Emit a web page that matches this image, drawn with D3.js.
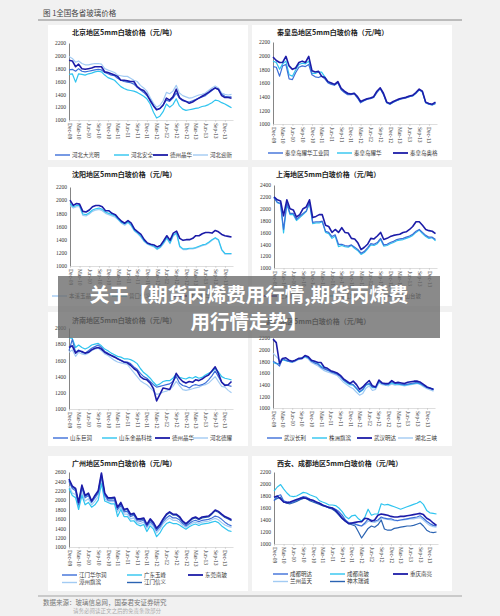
<!DOCTYPE html>
<html>
<head>
<meta charset="utf-8">
<script src="https://cdn.jsdelivr.net/npm/d3@7"></script>
<style>
body { margin: 0; background: #f1f1f1; }
svg { display: block; }
</style>
</head>
<body>
<div id="chartDiv"></div>
<script>
// monthly prices, Dec-09 .. Feb-14 (51 points each)
var bjDaguangming = [1780,1790,1760,1800,1760,1750,1760,1770,1780,1790,1780,1740,
	1720,1700,1690,1650,1620,1600,1590,1580,1560,1510,1470,1430,
	1380,1320,1230,1160,1180,1240,1310,1290,1340,1420,1340,1300,
	1290,1280,1300,1320,1340,1360,1380,1420,1460,1500,1470,1400,
	1370,1360,1360];
var bjAnquan = [1710,1720,1590,1720,1710,1700,1720,1730,1750,1760,1750,1700,
	1660,1640,1620,1570,1520,1490,1470,1460,1450,1430,1400,1370,
	1330,1250,1120,1030,1060,1130,1250,1200,1240,1330,1220,1170,
	1150,1160,1170,1180,1190,1210,1220,1240,1270,1310,1300,1270,
	1250,1220,1190];
var bjJinghua = [1930,1920,1830,1870,1800,1790,1800,1810,1830,1830,1830,1750,
	1740,1720,1700,1680,1620,1620,1610,1600,1600,1520,1480,1460,
	1400,1300,1220,1160,1180,1230,1340,1310,1360,1480,1350,1310,
	1290,1260,1280,1310,1340,1370,1400,1430,1470,1500,1480,1380,
	1350,1350,1340];
var bjYingxin = [1990,1960,1900,1920,1880,1860,1860,1870,1880,1880,1870,1800,
	1780,1760,1740,1700,1690,1680,1680,1650,1620,1600,1540,1500,
	1450,1350,1260,1200,1230,1300,1430,1410,1450,1540,1420,1380,
	1360,1340,1350,1370,1390,1400,1420,1460,1500,1530,1500,1420,
	1400,1390,1400];

var qhdPark = [1840,1830,1700,1850,1870,1660,1650,1750,1830,1850,1840,1870,
	1720,1690,1680,1700,1660,1600,1580,1570,1600,1500,1460,1430,
	1430,1440,1380,1310,1340,1360,1370,1390,1460,1520,1430,1310,
	1290,1320,1340,1360,1370,1380,1400,1410,1450,1500,1470,1310,
	1290,1280,1300];
var qhdYaohua = [1920,1900,1800,1880,1920,1720,1700,1790,1870,1890,1880,1920,
	1740,1740,1760,1760,1690,1610,1590,1570,1610,1510,1470,1440,
	1440,1450,1390,1320,1340,1370,1380,1390,1470,1520,1440,1310,
	1290,1320,1340,1360,1380,1390,1400,1410,1450,1500,1470,1310,
	1290,1280,1300];
var qhdAoge = [1980,1930,1900,1900,1990,1850,1800,1820,1900,1920,1900,1990,
	1780,1760,1770,1700,1680,1620,1600,1580,1620,1520,1480,1450,
	1440,1450,1400,1330,1350,1370,1380,1400,1480,1530,1450,1320,
	1300,1330,1350,1370,1380,1390,1410,1420,1460,1510,1480,1320,
	1300,1290,1320];

var syA = [2000,1920,1950,1940,1830,1820,1850,1900,1920,1920,1900,1840,
	1840,1800,1780,1730,1680,1650,1690,1650,1560,1520,1480,1400,
	1350,1330,1320,1290,1310,1380,1460,1390,1500,1530,1420,1390,
	1400,1400,1420,1460,1460,1490,1510,1510,1500,1540,1520,1480,
	1460,1450,1440];
var syB = [1950,1900,1920,1920,1790,1780,1810,1850,1870,1880,1860,1820,
	1800,1780,1760,1710,1660,1640,1670,1620,1540,1500,1450,1380,
	1340,1320,1300,1260,1290,1350,1430,1350,1470,1500,1300,1260,
	1260,1270,1270,1280,1300,1320,1330,1360,1400,1430,1400,1250,
	1190,1190,1190];
var syC = [1920,1880,1900,1900,1770,1760,1790,1830,1850,1860,1840,1800,
	1780,1760,1740,1700,1650,1620,1660,1610,1530,1490,1440,1370,
	1330,1310,1290,1250,1280,1340,1420,1340,1460,1490,1290,1250,
	1250,1260,1260,1270,1290,1310,1320,1350,1390,1420,1390,1240,
	1180,1180,1180];

var shA = [2200,2150,2130,1880,2150,2000,1980,1860,1900,2000,2030,2150,
	1850,1870,1900,1900,1720,1700,1600,1650,1600,1680,1600,1590,
	1500,1490,1420,1310,1350,1400,1500,1490,1540,1600,1480,1500,
	1530,1550,1560,1570,1600,1610,1650,1700,1780,1780,1720,1650,
	1630,1620,1580];
var shB = [2200,2100,2080,1590,2080,1900,1900,1800,1850,1900,1950,2100,
	1750,1760,1760,1780,1600,1580,1500,1540,1360,1380,1360,1350,
	1380,1330,1290,1230,1260,1320,1390,1380,1410,1480,1370,1380,
	1410,1430,1460,1470,1480,1500,1520,1550,1600,1640,1580,1530,
	1500,1510,1460];
var shC = [2180,2110,2090,1650,2100,1920,1920,1820,1870,1920,1960,2110,
	1770,1780,1780,1790,1620,1600,1530,1560,1400,1400,1380,1370,
	1390,1350,1310,1250,1280,1340,1410,1400,1430,1500,1390,1400,
	1430,1450,1480,1490,1500,1520,1540,1570,1620,1650,1600,1550,
	1520,1520,1480];

var jnJurun = [1720,1860,1700,1730,1700,1690,1720,1750,1770,1790,1760,1710,
	1690,1660,1650,1620,1600,1580,1580,1560,1520,1490,1440,1400,
	1380,1340,1300,1270,1280,1290,1300,1310,1340,1400,1320,1290,
	1280,1260,1290,1300,1290,1300,1320,1360,1410,1470,1400,1330,
	1300,1290,1280];
var jnJinjing = [1880,1870,1760,1790,1760,1740,1760,1790,1800,1810,1780,1740,
	1720,1690,1670,1650,1640,1620,1620,1610,1590,1560,1500,1450,
	1420,1380,1330,1290,1310,1340,1350,1350,1380,1430,1390,1380,
	1370,1390,1380,1400,1380,1390,1420,1440,1460,1500,1460,1400,
	1380,1370,1360];
var jnJinghua = [1760,1780,1690,1720,1710,1690,1700,1730,1750,1760,1740,1700,
	1680,1660,1640,1620,1600,1580,1570,1540,1500,1470,1400,1370,
	1360,1320,1250,1100,1180,1260,1250,1240,1330,1440,1380,1340,
	1320,1340,1330,1360,1350,1370,1400,1420,1470,1520,1440,1330,
	1290,1300,1340];
var jnHebei = [1700,1730,1650,1700,1680,1670,1690,1720,1740,1750,1720,1680,
	1660,1630,1600,1580,1570,1560,1550,1500,1450,1400,1350,1320,
	1300,1260,1220,1180,1190,1210,1220,1240,1280,1340,1290,1240,
	1230,1240,1250,1260,1270,1290,1300,1320,1360,1400,1340,1280,
	1270,1230,1200];

var whChangli = [1800,1770,1720,1850,1820,1800,1790,1810,1840,1850,1890,1860,
	1800,1770,1750,1700,1670,1650,1620,1600,1580,1540,1480,1440,
	1420,1400,1340,1280,1320,1400,1420,1360,1350,1460,1420,1400,
	1410,1450,1420,1420,1410,1400,1410,1420,1430,1440,1420,1380,
	1350,1340,1310];
var whQibin = [1780,1760,1760,1830,1810,1800,1790,1820,1840,1860,1880,1860,
	1810,1780,1760,1720,1680,1650,1630,1610,1590,1550,1480,1430,
	1400,1390,1330,1270,1310,1390,1410,1350,1350,1450,1420,1400,
	1400,1430,1410,1410,1400,1390,1400,1410,1420,1430,1410,1380,
	1350,1340,1320];
var whMingda = [2180,2120,1760,1850,1860,1820,1800,1820,1850,1850,1900,1880,
	1820,1800,1780,1780,1700,1680,1640,1620,1600,1560,1500,1460,
	1420,1460,1400,1320,1360,1420,1470,1380,1360,1480,1430,1420,
	1420,1470,1430,1440,1430,1420,1440,1450,1460,1460,1440,1400,
	1360,1340,1320];
var whSanxia = [1940,1880,1820,1830,1820,1800,1780,1800,1830,1840,1870,1840,
	1780,1750,1720,1680,1640,1620,1600,1580,1560,1500,1440,1400,
	1360,1330,1270,1220,1250,1340,1380,1300,1320,1430,1400,1390,
	1380,1410,1390,1400,1390,1380,1390,1400,1410,1420,1400,1360,
	1330,1310,1290];

var gzHuaerrun = [2400,2250,2200,1900,2250,2050,2100,1950,2050,2150,2500,2100,
	2000,2000,2000,1800,1900,1750,1760,1650,1680,1560,1550,1570,
	1440,1540,1470,1350,1430,1540,1620,1670,1620,1620,1580,1500,
	1450,1500,1550,1570,1540,1570,1580,1590,1620,1660,1640,1590,
	1530,1480,1450];
var gzYufeng = [2250,2100,2050,1800,2100,1900,1950,1850,1900,2000,2350,1980,
	1950,1920,1920,1650,1800,1650,1650,1550,1560,1480,1450,1480,
	1330,1450,1380,1220,1300,1420,1500,1530,1500,1500,1470,1420,
	1380,1430,1470,1490,1460,1490,1500,1510,1530,1550,1520,1450,
	1400,1350,1330];
var gzNanbo = [2450,2300,2250,1950,2320,2100,2150,1980,2100,2200,2580,2150,
	2050,2050,2060,1850,1950,1800,1820,1700,1720,1600,1600,1620,
	1480,1600,1520,1400,1480,1600,1700,1750,1700,1700,1650,1550,
	1500,1560,1620,1640,1600,1640,1650,1660,1720,1790,1760,1700,
	1650,1620,1580];
var gzQibin = [2300,2150,2120,1850,2150,1980,2030,1900,1980,2080,2420,2030,
	1980,1970,1970,1750,1850,1700,1700,1600,1620,1520,1500,1530,
	1400,1500,1430,1300,1380,1500,1570,1620,1570,1570,1530,1460,
	1420,1470,1510,1530,1500,1530,1540,1550,1580,1610,1580,1520,
	1470,1440,1420];
var gzXinyi = [2420,2280,2230,1930,2300,2080,2130,1970,2080,2180,2550,2130,
	2030,2030,2040,1830,1930,1780,1800,1680,1700,1590,1580,1600,
	1460,1580,1500,1380,1460,1580,1680,1730,1680,1680,1630,1530,
	1480,1540,1600,1620,1580,1620,1630,1640,1700,1770,1740,1680,
	1630,1600,1560];

var cdMingda = [1720,1800,1820,1720,1700,1690,1700,1730,1760,1790,1780,1750,
	1720,1700,1680,1650,1630,1610,1600,1580,1540,1480,1400,1350,
	1340,1330,1310,1300,1350,1420,1400,1380,1400,1450,1430,1420,
	1420,1400,1390,1400,1410,1420,1430,1440,1450,1470,1430,1380,
	1340,1310,1300];
var cdNanbo = [1880,1950,1990,1920,1850,1800,1790,1800,1830,1860,1850,1820,
	1800,1780,1720,1700,1680,1650,1650,1640,1600,1540,1460,1420,
	1470,1480,1420,1380,1450,1580,1480,1500,1500,1670,1650,1660,
	1640,1620,1600,1580,1600,1620,1640,1660,1680,1710,1660,1560,
	1520,1510,1500];
var cqNanliang = [1780,1800,1750,1700,1690,1700,1720,1740,1760,1770,1760,1740,
	1730,1700,1680,1650,1630,1610,1600,1560,1500,1430,1380,1340,
	1350,1360,1370,1370,1430,1420,1380,1400,1480,1500,1490,1480,
	1460,1450,1450,1460,1460,1470,1480,1490,1500,1510,1490,1430,
	1400,1350,1310];
var lzLantian = [1760,1780,1760,1720,1700,1690,1700,1720,1740,1760,1760,1730,
	1710,1690,1670,1640,1620,1600,1590,1570,1520,1460,1400,1360,
	1350,1340,1320,1300,1330,1380,1370,1360,1380,1430,1420,1410,
	1400,1390,1390,1400,1400,1410,1420,1420,1430,1440,1400,1350,
	1310,1290,1280];
var smRuicheng = [1730,1760,1780,1700,1680,1670,1690,1710,1740,1760,1760,1720,
	1700,1680,1660,1640,1620,1600,1580,1540,1480,1420,1380,1340,
	1320,1300,1200,1100,1180,1260,1300,1280,1320,1400,1250,1230,
	1230,1260,1270,1280,1290,1300,1300,1310,1330,1350,1300,1230,
	1200,1190,1200];

var xTickLabels = ["Dec-09","Mar-10","Jun-10","Sep-10","Dec-10","Mar-11","Jun-11","Sep-11",
	"Dec-11","Mar-12","Jun-12","Sep-12","Dec-12","Mar-13","Jun-13","Sep-13","Dec-13"];

var col = { med: "#3d6fd8", cyan: "#2fc4ef", dark: "#1c1ca8", light: "#a2cbf3", steel: "#2a63b2" };

var months = d3.timeMonth.range(new Date(2009, 11, 1), new Date(2014, 2, 1));
var width = 500, height = 616;

var charts = [
	{ title: "北京地区5mm白玻价格（元/吨）", px: 48, py: 25, ph: 135,
	  left: 69, right: 233, top: 43, bottom: 120, yMax: 2200, titleX: 72, titleY: 33,
	  legX: [55, 114, 153, 193], legY: 155,
	  series: [
		{ name: "河北大光明", values: bjDaguangming, color: col.med },
		{ name: "河北安全", values: bjAnquan, color: col.cyan },
		{ name: "德州晶华", values: bjJinghua, color: col.dark },
		{ name: "河北迎新", values: bjYingxin, color: col.light } ] },
	{ title: "秦皇岛地区5mm白玻价格（元/吨）", px: 252, py: 25, ph: 135,
	  left: 273, right: 437, top: 42, bottom: 124, yMax: 2200, titleX: 277, titleY: 33,
	  legX: [268, 337, 393], legY: 153,
	  series: [
		{ name: "秦皇岛耀华工业园", values: qhdPark, color: col.med },
		{ name: "秦皇岛耀华", values: qhdYaohua, color: col.cyan },
		{ name: "秦皇岛奥格", values: qhdAoge, color: col.dark } ] },
	{ title: "沈阳地区5mm白玻价格（元/吨）", px: 48, py: 167, ph: 139,
	  left: 70, right: 233, top: 187, bottom: 266, yMax: 2200, titleX: 72, titleY: 175,
	  legX: [52, 112, 172], legY: 296,
	  series: [
		{ name: "本溪玉晶", values: syC, color: col.light },
		{ name: "营口信义", values: syB, color: col.cyan },
		{ name: "沈阳耀华", values: syA, color: col.dark } ] },
	{ title: "上海地区5mm白玻价格（元/吨）", px: 252, py: 167, ph: 139,
	  left: 274, right: 437, top: 185, bottom: 268, yMax: 2400, titleX: 276, titleY: 175,
	  legX: [262, 322, 382], legY: 296,
	  series: [
		{ name: "上海耀皮", values: shA, color: col.dark },
		{ name: "浙江旗滨", values: shB, color: col.cyan },
		{ name: "昆山台玻", values: shC, color: col.med } ] },
	{ title: "济南地区5mm白玻价格（元/吨）", px: 48, py: 312, ph: 134,
	  left: 69, right: 233, top: 328, bottom: 409, yMax: 2000, titleX: 72, titleY: 321,
	  legX: [53, 102, 155, 193], legY: 438,
	  series: [
		{ name: "山东巨润", values: jnJurun, color: col.med },
		{ name: "山东金晶科技", values: jnJinjing, color: col.cyan },
		{ name: "德州晶华", values: jnJinghua, color: col.dark },
		{ name: "河北德耀", values: jnHebei, color: col.light } ] },
	{ title: "武汉地区5mm白玻价格（元/吨）", px: 252, py: 312, ph: 134,
	  left: 273, right: 435, top: 338, bottom: 408, yMax: 2200, titleX: 266, titleY: 322,
	  legX: [267, 312, 357, 398], legY: 438,
	  series: [
		{ name: "武汉长利", values: whChangli, color: col.med },
		{ name: "株洲旗滨", values: whQibin, color: col.cyan },
		{ name: "武汉明达", values: whMingda, color: col.dark },
		{ name: "湖北三峡", values: whSanxia, color: col.light } ] },
	{ title: "广州地区5mm白玻价格（元/吨）", px: 48, py: 456, ph: 135,
	  left: 69, right: 233, top: 472, bottom: 547, yMax: 2600, titleX: 72, titleY: 464,
	  legX: [62, 127, 188], legY: 575,
	  series: [
		{ name: "江门华尔润", values: gzHuaerrun, color: col.med },
		{ name: "广东玉峰", values: gzYufeng, color: col.cyan },
		{ name: "东莞南玻", values: gzNanbo, color: col.dark },
		{ name: "漳州旗滨", values: gzQibin, color: col.light },
		{ name: "江门信义", values: gzXinyi, color: col.steel } ] },
	{ title: "西安、成都地区5mm白玻价格（元/吨）", px: 252, py: 456, ph: 135,
	  left: 274, right: 438, top: 472, bottom: 544, yMax: 2200, titleX: 277, titleY: 464,
	  legX: [273, 330, 393], legY: 574,
	  series: [
		{ name: "成都明达", values: cdMingda, color: col.med },
		{ name: "成都南玻", values: cdNanbo, color: col.cyan },
		{ name: "重庆南亮", values: cqNanliang, color: col.dark },
		{ name: "兰州蓝天", values: lzLantian, color: col.light },
		{ name: "神木瑞诚", values: smRuicheng, color: col.steel } ] }
];

var cjk = "'Noto Sans CJK SC', 'Noto Sans', sans-serif";
var serif = "'Liberation Serif', 'DejaVu Serif', serif";

var svg = d3.select("#chartDiv").append("svg")
	.attr("width", width)
	.attr("height", height);

svg.append("rect").attr("width", width).attr("height", height).attr("fill", "#f1f1f1");

// page header
svg.append("text")
	.attr("x", 43).attr("y", 13).attr("dy", "0.35em")
	.style("font-family", cjk).style("font-size", "7.5px").attr("fill", "#444")
	.text("图 1全国各省玻璃价格");
svg.append("line").attr("x1", 38).attr("x2", 462).attr("y1", 20).attr("y2", 20)
	.attr("stroke", "#a8a8a8").attr("stroke-width", 1.5);

charts.forEach(drawChart);

// page footer
svg.append("line").attr("x1", 38).attr("x2", 462).attr("y1", 596).attr("y2", 596)
	.attr("stroke", "#bdbdbd").attr("stroke-width", 1.5);
svg.append("text")
	.attr("x", 43).attr("y", 603).attr("dy", "0.35em")
	.style("font-family", cjk).style("font-size", "6.5px").attr("fill", "#777")
	.text("数据来源：玻璃信息网，国泰君安证券研究");
svg.append("text")
	.attr("x", 73).attr("y", 611.5).attr("dy", "0.35em")
	.style("font-family", cjk).style("font-size", "5.5px").attr("fill", "#aaa")
	.text("请务必阅读正文之后的免责条款部分");

// overlay banner
svg.append("rect").attr("x", 58).attr("y", 276).attr("width", 382).attr("height", 62)
	.attr("fill", "rgba(105,105,105,0.78)");
var bannerLines = ["关于【期货丙烯费用行情,期货丙烯费", "用行情走势】"];
svg.selectAll(".banner").data(bannerLines).enter().append("text")
	.attr("class", "banner")
	.attr("x", 249)
	.attr("y", function(d, i) { return 295 + i * 27; })
	.attr("dy", "0.35em")
	.attr("text-anchor", "middle")
	.style("font-family", cjk).style("font-size", "19.5px").style("font-weight", "bold")
	.attr("fill", "#fff")
	.text(function(d) { return d; });

function drawChart(c) {
	var g = svg.append("g");

	g.append("rect")
		.attr("x", c.px).attr("y", c.py).attr("width", 200).attr("height", c.ph)
		.attr("fill", "#fff");

	g.append("text")
		.attr("x", c.titleX).attr("y", c.titleY).attr("dy", "0.35em")
		.style("font-family", cjk).style("font-size", "7px").style("font-weight", "bold")
		.attr("fill", "#222")
		.text(c.title);

	var xScale = d3.scaleTime()
		.domain([new Date(2009, 11, 1), new Date(2014, 1, 15)])
		.range([c.left, c.right]);
	var yScale = d3.scaleLinear()
		.domain([1000, c.yMax])
		.range([c.bottom, c.top]);

	// y axis
	var yAxis = d3.axisLeft(yScale)
		.tickValues(d3.range(1000, c.yMax + 1, 200))
		.tickSize(0)
		.tickPadding(3)
		.tickFormat(d3.format("d"));
	var ya = g.append("g")
		.attr("transform", "translate(" + c.left + ",0)")
		.call(yAxis);
	ya.select(".domain").attr("stroke", "#666").attr("stroke-width", 0.8);
	ya.selectAll("text").style("font-family", serif).style("font-size", "5.5px").attr("fill", "#333");

	// x axis
	var tickDates = months.filter(function(d, i) { return i % 3 === 0 && i <= 48; });
	var xAxis = d3.axisBottom(xScale)
		.tickValues(tickDates)
		.tickSize(2)
		.tickSizeOuter(0)
		.tickFormat(function(d, i) { return xTickLabels[i]; });
	var xa = g.append("g")
		.attr("transform", "translate(0," + c.bottom + ")")
		.call(xAxis);
	xa.select(".domain").attr("stroke", "#c8c8c8").attr("stroke-width", 0.6);
	xa.selectAll("line").attr("stroke", "#bbb").attr("stroke-width", 0.5);
	xa.selectAll("text")
		.attr("transform", "rotate(90)")
		.attr("x", 3).attr("y", 0).attr("dy", "0.35em")
		.attr("text-anchor", "start")
		.style("font-family", serif).style("font-size", "5.5px").attr("fill", "#333");

	var line = d3.line()
		.x(function(d, i) { return xScale(months[i]); })
		.y(function(d) { return yScale(d); });

	// draw lighter series first so the dark ones stay on top
	var order = { light: 0, cyan: 1, steel: 2, med: 3, dark: 4 };
	var sorted = c.series.slice().sort(function(a, b) {
		return rank(a.color) - rank(b.color);
	});
	function rank(color) {
		for (var k in col) { if (col[k] === color) return order[k]; }
		return 0;
	}

	g.selectAll(".series").data(sorted).enter().append("path")
		.attr("class", "series")
		.attr("d", function(s) { return line(s.values); })
		.attr("fill", "none")
		.attr("stroke", function(s) { return s.color; })
		.attr("stroke-width", function(s) { return s.color === col.dark ? 1.6 : 1.2; })
		.attr("stroke-linejoin", "round");

	// legend
	var cols = c.legX.length;
	var leg = g.selectAll(".leg").data(c.series).enter().append("g")
		.attr("class", "leg")
		.attr("transform", function(s, i) {
			return "translate(" + c.legX[i % cols] + "," + (c.legY + Math.floor(i / cols) * 7.5) + ")";
		});
	leg.append("line")
		.attr("x1", 0).attr("x2", 15).attr("y1", 0).attr("y2", 0)
		.attr("stroke", function(s) { return s.color; })
		.attr("stroke-width", function(s) { return s.color === col.dark ? 1.8 : 1.4; });
	leg.append("text")
		.attr("x", 17).attr("y", 0).attr("dy", "0.35em")
		.style("font-family", cjk).style("font-size", "5.5px").attr("fill", "#333")
		.text(function(s) { return s.name; });
}
</script>
</body>
</html>
